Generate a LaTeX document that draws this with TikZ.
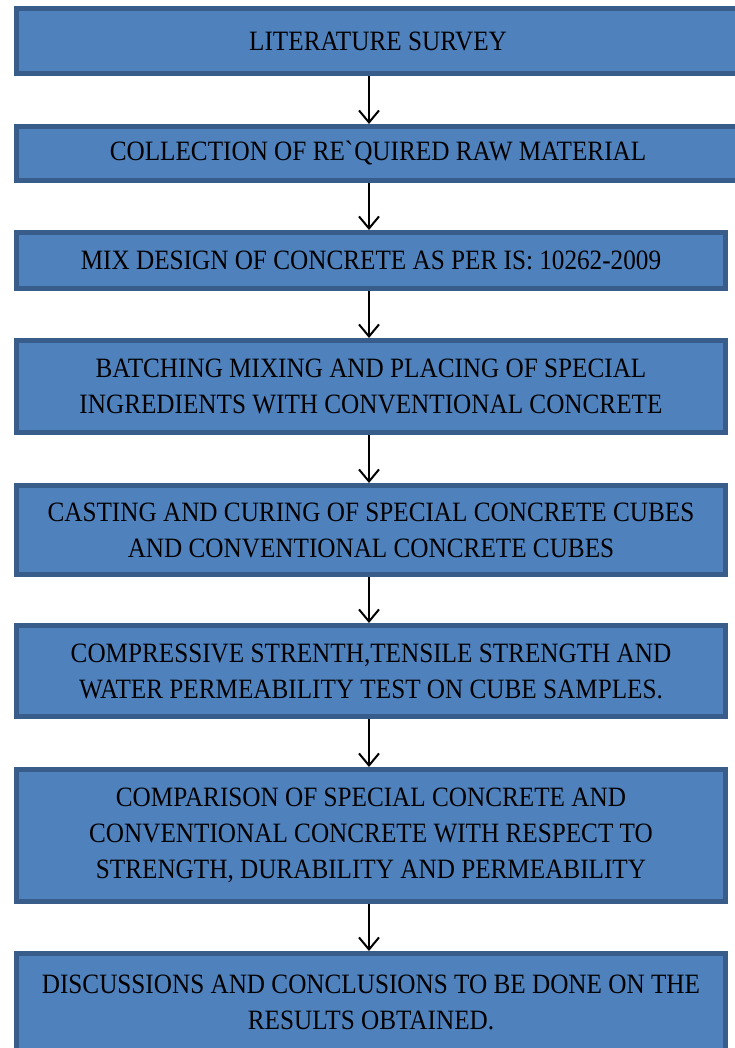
\documentclass[tikz,border=0pt]{standalone}
\usepackage{fontspec}
\setmainfont{Liberation Serif}[FakeStretch=0.9]
\usetikzlibrary{arrows.meta}
\definecolor{boxfill}{RGB}{79,129,189}
\definecolor{boxline}{RGB}{56,93,138}
\tikzset{
  stage/.style={draw=boxline,fill=boxfill,line width=5pt,align=center,
    inner sep=0pt,minimum width=709pt,font=\fontsize{28}{36}\selectfont},
  flow/.style={line width=2pt,-{Straight Barb[length=12pt,width=20pt,line width=2pt]}}
}
\begin{document}
\begin{tikzpicture}[x=1pt,y=-1pt]
\path[fill=white,use as bounding box] (0,0) rectangle (735,1048);
\coordinate (ax) at (369,0);
\node[stage,minimum width=723pt,minimum height=65pt] (lit) at (378,41) {LITERATURE SURVEY};
\node[stage,minimum width=723pt,minimum height=54pt] (coll) at (378,153.5) {COLLECTION OF RE\textasciigrave QUIRED RAW MATERIAL};
\node[stage,minimum height=56pt] (mix) at (371,260.5) {MIX DESIGN OF CONCRETE AS PER IS: 10262-2009};
\node[stage,minimum height=92pt] (batch) at (371,386.5) {BATCHING MIXING AND PLACING OF SPECIAL\\INGREDIENTS WITH CONVENTIONAL CONCRETE};
\node[stage,minimum height=89pt] (cast) at (371,530) {CASTING AND CURING OF SPECIAL CONCRETE CUBES\\AND CONVENTIONAL CONCRETE CUBES};
\node[stage,minimum height=91pt] (test) at (371,671) {COMPRESSIVE STRENTH,TENSILE STRENGTH AND\\WATER PERMEABILITY TEST ON CUBE SAMPLES.};
\node[stage,minimum height=132pt] (comp) at (371,835.5) {COMPARISON OF SPECIAL CONCRETE AND\\CONVENTIONAL CONCRETE WITH RESPECT TO\\STRENGTH, DURABILITY AND PERMEABILITY};
\node[stage,minimum height=97pt] (disc) at (371,1002) {DISCUSSIONS AND CONCLUSIONS TO BE DONE ON THE\\RESULTS OBTAINED.};
\path (lit.south -| ax) edge[flow] (coll.north -| ax);
\path (coll.south -| ax) edge[flow] (mix.north -| ax);
\path (mix.south -| ax) edge[flow] (batch.north -| ax);
\path (batch.south -| ax) edge[flow] (cast.north -| ax);
\path (cast.south -| ax) edge[flow] (test.north -| ax);
\path (test.south -| ax) edge[flow] (comp.north -| ax);
\path (comp.south -| ax) edge[flow] (disc.north -| ax);
\end{tikzpicture}
\end{document}
